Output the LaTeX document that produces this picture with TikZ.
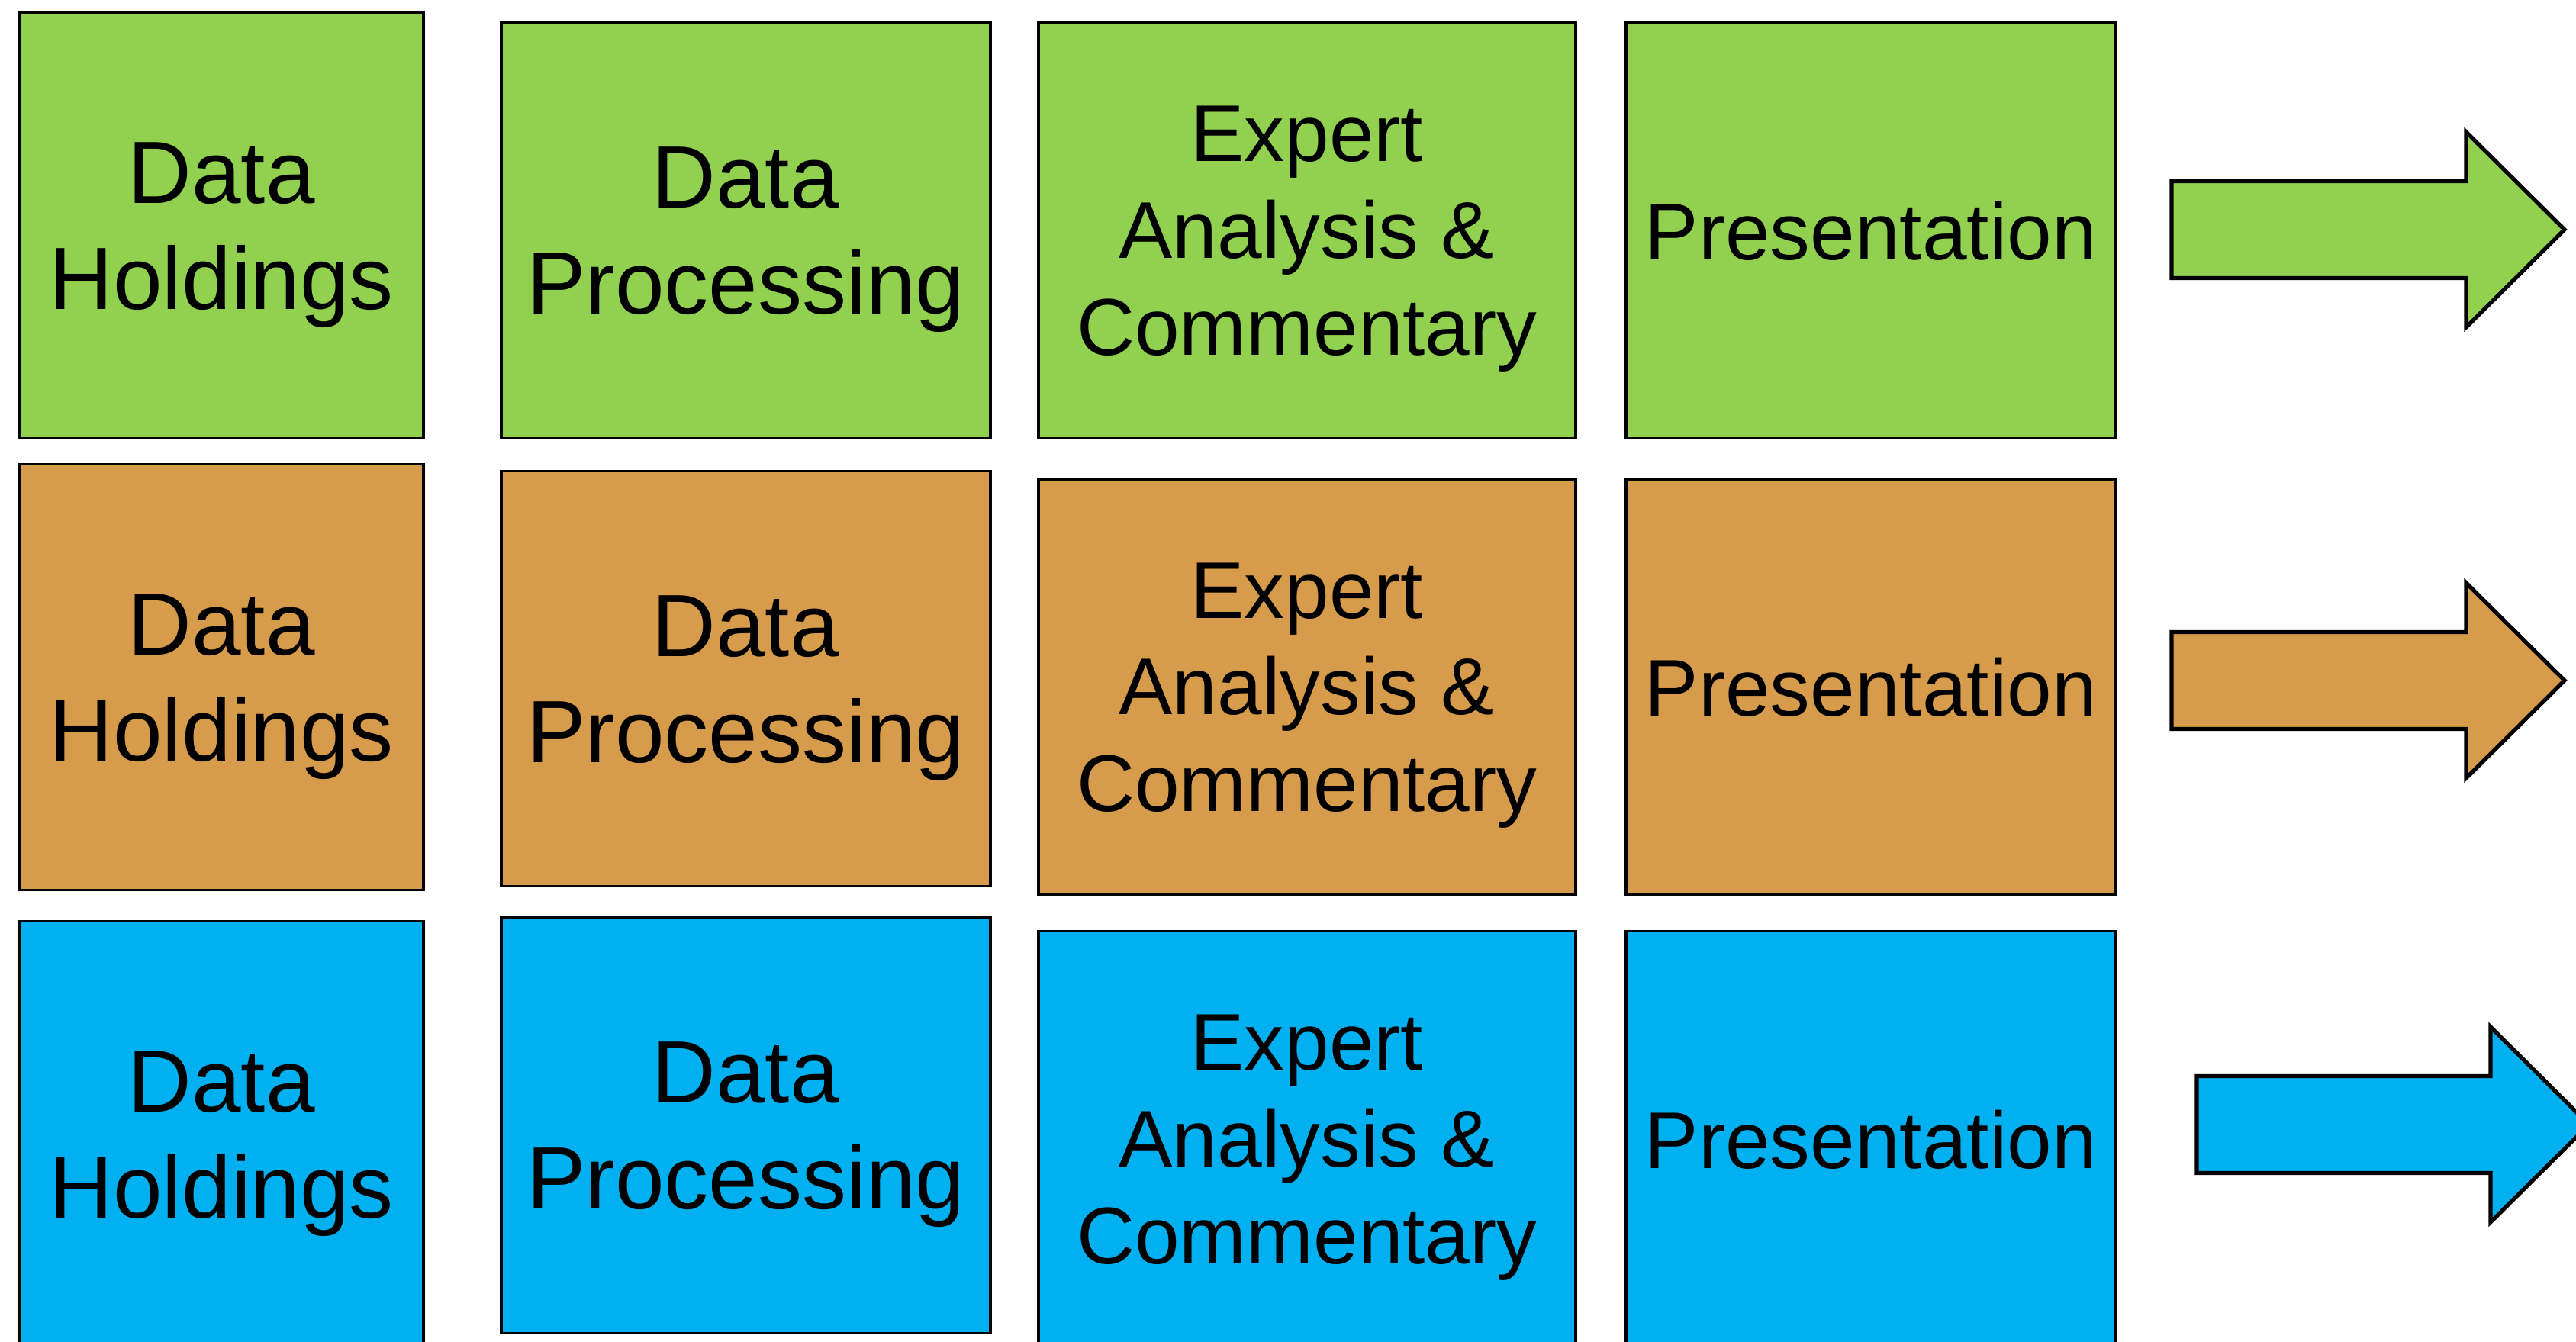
\documentclass[tikz,border=0pt]{standalone}
\usepackage{fontspec}
\setmainfont{Liberation Sans}

\definecolor{rowgreen}{HTML}{92D050}
\definecolor{rowtan}{HTML}{D69C4C}
\definecolor{rowblue}{HTML}{00B0F0}

\tikzset{
	stage/.style={draw=black, line width=1pt, align=center, inner sep=0pt, text depth=0pt, anchor=north west},
	bigtext/.style={font=\fontsize{33}{39.6}\selectfont},
	smalltext/.style={font=\fontsize{30}{36}\selectfont},
	flow/.style={draw=black, line width=1.5pt, line join=miter},
}

\begin{document}
\begin{tikzpicture}
		\useasboundingbox (0, 0) rectangle (33.76, 17.59);
		\clip (0, 0) rectangle (33.76, 17.59);

		% 1段目
		\node[stage, bigtext, fill=rowgreen, minimum width=5.29cm, minimum height=5.58cm] (hold1) at (0.24, 17.44) {Data\\Holdings};
		\node[stage, bigtext, fill=rowgreen, minimum width=6.41cm, minimum height=5.45cm] (proc1) at (6.55, 17.31) {Data\\Processing};
		\node[stage, smalltext, fill=rowgreen, minimum width=7.04cm, minimum height=5.45cm] (expert1) at (13.59, 17.31) {Expert\\Analysis \&\\Commentary};
		\node[stage, smalltext, fill=rowgreen, minimum width=6.42cm, minimum height=5.45cm] (pres1) at (21.29, 17.31) {Presentation};
		\coordinate (out1) at (28.46, 14.58);
		\draw[flow, fill=rowgreen] (out1) ++(0, 0.635) -- ++(3.86, 0) -- ++(0, 0.645) -- ++(1.29, -1.28) -- ++(-1.29, -1.28) -- ++(0, 0.645) -- ++(-3.86, 0) -- cycle;

		% 2段目
		\node[stage, bigtext, fill=rowtan, minimum width=5.29cm, minimum height=5.58cm] (hold2) at (0.24, 11.52) {Data\\Holdings};
		\node[stage, bigtext, fill=rowtan, minimum width=6.41cm, minimum height=5.44cm] (proc2) at (6.55, 11.43) {Data\\Processing};
		\node[stage, smalltext, fill=rowtan, minimum width=7.04cm, minimum height=5.44cm] (expert2) at (13.59, 11.32) {Expert\\Analysis \&\\Commentary};
		\node[stage, smalltext, fill=rowtan, minimum width=6.42cm, minimum height=5.44cm] (pres2) at (21.29, 11.32) {Presentation};
		\coordinate (out2) at (28.46, 8.67);
		\draw[flow, fill=rowtan] (out2) ++(0, 0.635) -- ++(3.86, 0) -- ++(0, 0.645) -- ++(1.29, -1.28) -- ++(-1.29, -1.28) -- ++(0, 0.645) -- ++(-3.86, 0) -- cycle;

		% 3段目
		\node[stage, bigtext, fill=rowblue, minimum width=5.29cm, minimum height=5.58cm] (hold3) at (0.24, 5.53) {Data\\Holdings};
		\node[stage, bigtext, fill=rowblue, minimum width=6.41cm, minimum height=5.45cm] (proc3) at (6.55, 5.58) {Data\\Processing};
		\node[stage, smalltext, fill=rowblue, minimum width=7.04cm, minimum height=5.45cm] (expert3) at (13.59, 5.40) {Expert\\Analysis \&\\Commentary};
		\node[stage, smalltext, fill=rowblue, minimum width=6.42cm, minimum height=5.45cm] (pres3) at (21.29, 5.40) {Presentation};
		\coordinate (out3) at (28.79, 2.85);
		\draw[flow, fill=rowblue] (out3) ++(0, 0.635) -- ++(3.85, 0) -- ++(0, 0.645) -- ++(1.29, -1.28) -- ++(-1.29, -1.28) -- ++(0, 0.645) -- ++(-3.85, 0) -- cycle;
\end{tikzpicture}
\end{document}
